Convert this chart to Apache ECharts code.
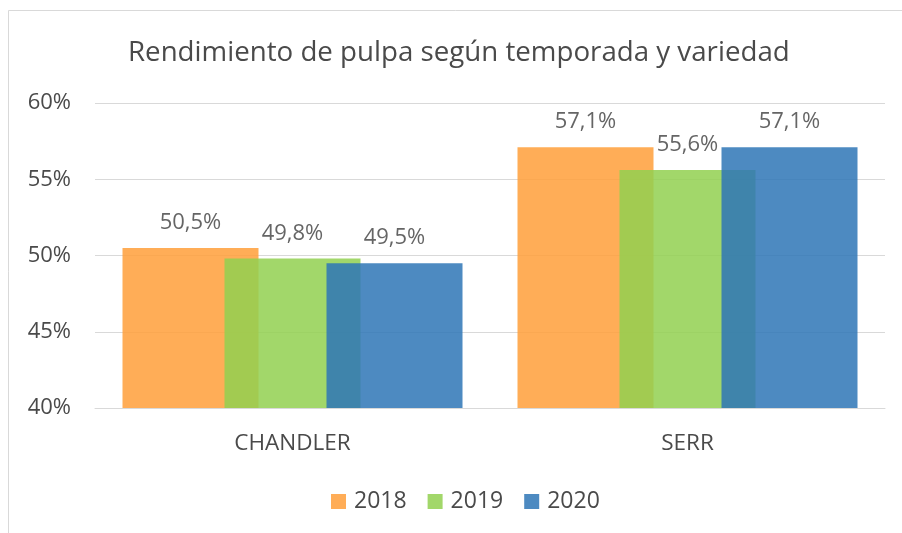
<!DOCTYPE html>
<html>
<head>
<meta charset="utf-8">
<script src="https://cdn.jsdelivr.net/npm/echarts@6/dist/echarts.min.js"></script>
<style>
  html, body { margin: 0; padding: 0; background: #fff; }
  #chart { width: 902px; height: 533px; }
</style>
</head>
<body>
<div id="chart"></div>
<script>
// datos
const variedades = ['CHANDLER', 'SERR'];
const temporadas = ['2018', '2019', '2020'];
const r2018 = [50.5, 57.1];
const r2019 = [49.8, 55.6];
const r2020 = [49.5, 57.1];
const colores = ['#FF9F3A', '#92D050', '#2E75B6'];

const chart = echarts.init(document.getElementById('chart'));
const font = 'Open Sans';
const gris = '#4a4a4a';

function serie(nombre, valores, color) {
  return {
    name: nombre,
    type: 'bar',
    data: valores,
    barWidth: 136,
    barGap: '-25%',
    itemStyle: { color: color, opacity: 0.85 },
    label: {
      show: true,
      position: 'top',
      distance: 14,
      color: gris,
      fontFamily: font,
      fontSize: 22,
      formatter: p => p.value.toFixed(1).replace('.', ',') + '%'
    }
  };
}

var option = {
  backgroundColor: '#fff',
  animation: false,
  color: colores,
  title: {
    text: 'Rendimiento de pulpa según temporada y variedad',
    left: 128,
    top: 39,
    padding: 0,
    textStyle: { color: gris, fontFamily: font, fontSize: 27.7, fontWeight: 'normal' }
  },
  graphic: [{
    type: 'polyline',
    shape: { points: [[8.5, 533], [8.5, 10.5], [902, 10.5]] },
    style: { stroke: '#d9d9d9', fill: null, lineWidth: 1 }
  }],
  grid: { left: 95, right: 17, top: 103, bottom: 125 },
  legend: {
    data: temporadas,
    bottom: 20,
    left: 331,
    padding: 0,
    itemWidth: 15,
    itemHeight: 15,
    itemGap: 21,
    icon: 'rect',
    textStyle: { color: gris, fontFamily: font, fontSize: 23, padding: [0, 0, 0, 3] }
  },
  xAxis: {
    type: 'category',
    data: variedades,
    axisLine: { lineStyle: { color: '#d9d9d9', width: 1 } },
    axisTick: { show: false },
    axisLabel: { color: gris, fontFamily: font, fontSize: 22.5, margin: 24 }
  },
  yAxis: {
    type: 'value',
    min: 40,
    max: 60,
    interval: 5,
    axisLine: { show: false },
    axisTick: { show: false },
    splitLine: { lineStyle: { color: '#d9d9d9', width: 1 } },
    axisLabel: {
      color: gris, fontFamily: font, fontSize: 22, margin: 24,
      formatter: v => v + '%'
    }
  },
  series: [
    serie(temporadas[0], r2018, colores[0]),
    serie(temporadas[1], r2019, colores[1]),
    serie(temporadas[2], r2020, colores[2])
  ]
};

chart.setOption(option);
</script>
</body>
</html>
